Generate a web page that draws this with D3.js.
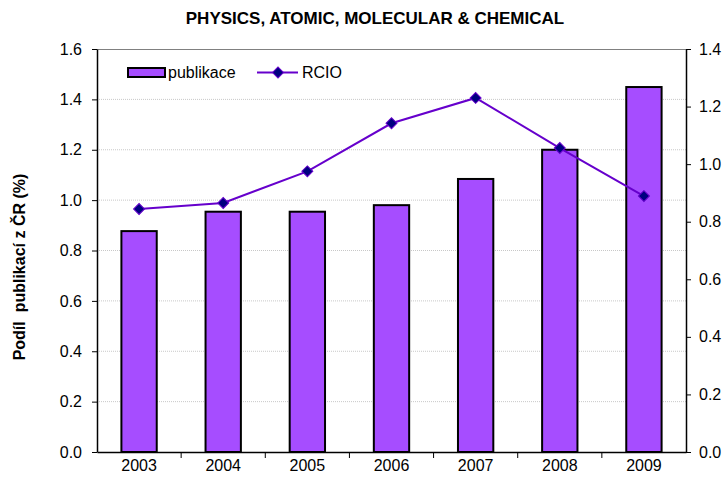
<!DOCTYPE html>
<html>
<head>
  <meta charset="utf-8">
  <title>Physics, atomic, molecular &amp; chemical</title>
  <script src="https://d3js.org/d3.v7.min.js"></script>
  <style>
    body { margin: 0; background: #fff; }
    text { font-family: Arial, "Liberation Sans", sans-serif; fill: #000; }
    .axis .domain, .axis line { stroke: #000; }
  </style>
</head>
<body>
<div id="output"></div>
<script>
  var years = ["2003", "2004", "2005", "2006", "2007", "2008", "2009"];
  var publikace = [0.877, 0.954, 0.954, 0.980, 1.084, 1.200, 1.449];
  var rcio = [0.844, 0.865, 0.975, 1.142, 1.230, 1.056, 0.889];
  var leftTicks = [0, 0.2, 0.4, 0.6, 0.8, 1.0, 1.2, 1.4, 1.6];
  var rightTicks = [0, 0.2, 0.4, 0.6, 0.8, 1.0, 1.2, 1.4];

  var w = 726, h = 480;
  var m = {top: 49, right: 40, bottom: 28, left: 97};
  var wChart = w - m.left - m.right;
  var hChart = h - m.top - m.bottom;

  var x = d3.scaleBand().domain(years).range([0, wChart]).paddingInner(0.58).paddingOuter(0.29);
  var xOuter = d3.scaleBand().domain(years).range([0, wChart]);
  var yL = d3.scaleLinear().domain([0, 1.6]).range([hChart, 0]);
  var yR = d3.scaleLinear().domain([0, 1.4]).range([hChart, 0]);

  var svg = d3.select("#output").append("svg").attr("width", w).attr("height", h);

  svg.append("text")
    .attr("x", 375).attr("y", 24)
    .attr("text-anchor", "middle")
    .style("font-size", "17px").style("font-weight", "bold")
    .text("PHYSICS, ATOMIC, MOLECULAR & CHEMICAL");

  svg.append("text")
    .attr("transform", "translate(25,267) rotate(-90)")
    .attr("text-anchor", "middle")
    .style("font-size", "16px").style("font-weight", "bold")
    .style("white-space", "pre")
    .text("Podíl  publikací z ČR (%)");

  var chart = svg.append("g").attr("transform", "translate(" + m.left + "," + m.top + ")");

  // gridlines
  chart.selectAll(".grid").data(leftTicks.slice(1, -1)).enter().append("line")
    .attr("x1", 0).attr("x2", wChart)
    .attr("y1", function(d){ return yL(d); }).attr("y2", function(d){ return yL(d); })
    .attr("stroke", "#c8c8c8").attr("stroke-width", 1).attr("stroke-dasharray", "1,1");

  chart.append("line").attr("x1", 0).attr("x2", wChart).attr("y1", 0.5).attr("y2", 0.5)
    .attr("stroke", "#808080");

  chart.selectAll(".bar").data(publikace).enter().append("rect")
    .attr("class", "bar")
    .attr("x", function(d, i){ return x(years[i]); })
    .attr("width", x.bandwidth())
    .attr("y", function(d){ return yL(d); })
    .attr("height", function(d){ return hChart - yL(d); })
    .attr("fill", "#A64DFF").attr("stroke", "#000").attr("stroke-width", 2);

  var line = d3.line()
    .x(function(d, i){ return x(years[i]) + x.bandwidth() / 2; })
    .y(function(d){ return yR(d); });

  chart.append("path").datum(rcio).attr("d", line)
    .attr("fill", "none").attr("stroke", "#6600CC").attr("stroke-width", 2);

  var diamond = d3.symbol().type(d3.symbolSquare).size(60);
  chart.selectAll(".pt").data(rcio).enter().append("path")
    .attr("d", diamond)
    .attr("transform", function(d, i){ return "translate(" + (x(years[i]) + x.bandwidth() / 2) + "," + yR(d) + ") rotate(45)"; })
    .attr("fill", "#000080").attr("stroke", "#6600CC").attr("stroke-width", 1);

  // axes
  var xAxis = chart.append("g").attr("class", "axis")
    .attr("transform", "translate(0," + hChart + ")")
    .call(d3.axisBottom(x).tickSize(0).tickPadding(8).tickSizeOuter(0));
  xAxis.select(".domain").attr("stroke-width", 1.5);
  xAxis.selectAll("text").style("font-size", "16px");
  xAxis.selectAll(".sep").data(years.slice(1)).enter().append("line")
    .attr("x1", function(d){ return xOuter(d); }).attr("x2", function(d){ return xOuter(d); })
    .attr("y1", 0).attr("y2", 6).attr("stroke", "#000");

  var left = chart.append("g").attr("class", "axis")
    .call(d3.axisLeft(yL).tickValues(leftTicks).tickFormat(d3.format(".1f")).tickSize(5).tickSizeOuter(0).tickPadding(10));
  left.select(".domain").attr("stroke-width", 1.5);
  left.selectAll("text").style("font-size", "16px");

  var right = chart.append("g").attr("class", "axis")
    .attr("transform", "translate(" + wChart + ",0)")
    .call(d3.axisRight(yR).tickValues(rightTicks).tickFormat(d3.format(".1f")).tickSize(5).tickSizeOuter(0).tickPadding(8));
  right.select(".domain").attr("stroke-width", 1.5);
  right.selectAll("text").style("font-size", "16px");

  // legend
  var lg = svg.append("g");
  lg.append("rect").attr("x", 128).attr("y", 68).attr("width", 37).attr("height", 9)
    .attr("fill", "#A64DFF").attr("stroke", "#000").attr("stroke-width", 2);
  lg.append("text").attr("x", 168).attr("y", 78).style("font-size", "16px").text("publikace");
  lg.append("line").attr("x1", 257).attr("x2", 298).attr("y1", 72.5).attr("y2", 72.5)
    .attr("stroke", "#6600CC").attr("stroke-width", 2);
  lg.append("path").attr("d", diamond).attr("transform", "translate(278,72.5) rotate(45)")
    .attr("fill", "#000080").attr("stroke", "#6600CC").attr("stroke-width", 1);
  lg.append("text").attr("x", 302).attr("y", 78).style("font-size", "16px").text("RCIO");
</script>
</body>
</html>
